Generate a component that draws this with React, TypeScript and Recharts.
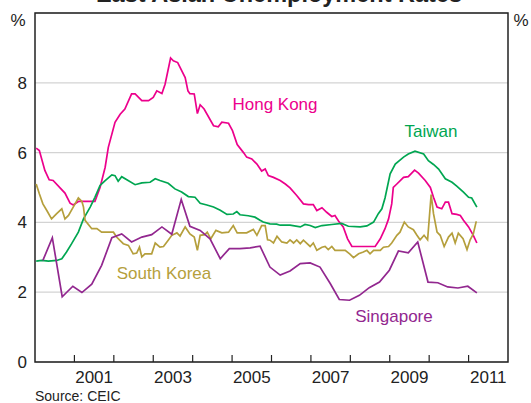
import React from "react";
import {
  LineChart,
  Line,
  XAxis,
  YAxis,
  CartesianGrid,
  ReferenceArea,
  ReferenceLine,
} from "recharts";

// ---- Data (decimal years, per cent) ----
const hkDates = [2000.03, 2000.11, 2000.25, 2000.36, 2000.46, 2000.76, 2000.89, 2000.97, 2001.1, 2001.52, 2001.65, 2001.78, 2001.86, 2002.03, 2002.16, 2002.28, 2002.45, 2002.54, 2002.71, 2002.88, 2003.0, 2003.09, 2003.22, 2003.3, 2003.44, 2003.51, 2003.62, 2003.81, 2003.88, 2003.93, 2004.04, 2004.12, 2004.19, 2004.29, 2004.53, 2004.65, 2004.74, 2004.91, 2005.01, 2005.13, 2005.29, 2005.37, 2005.5, 2005.63, 2005.75, 2005.84, 2005.92, 2006.05, 2006.22, 2006.35, 2006.47, 2006.64, 2006.81, 2006.94, 2007.06, 2007.15, 2007.28, 2007.4, 2007.53, 2007.61, 2007.7, 2007.82, 2007.93, 2008.04, 2008.63, 2008.76, 2008.88, 2008.97, 2009.05, 2009.09, 2009.18, 2009.35, 2009.47, 2009.63, 2009.73, 2009.9, 2010.03, 2010.11, 2010.2, 2010.32, 2010.41, 2010.49, 2010.58, 2010.7, 2010.79, 2010.87, 2011.0, 2011.12, 2011.21];
const hkRates = [6.13, 6.06, 5.49, 5.22, 5.2, 4.84, 4.55, 4.5, 4.6, 4.6, 5.0, 5.58, 6.15, 6.87, 7.1, 7.25, 7.68, 7.68, 7.49, 7.49, 7.58, 7.77, 7.69, 7.96, 8.71, 8.63, 8.58, 8.15, 7.77, 7.69, 7.68, 7.12, 7.37, 7.25, 6.77, 6.74, 6.87, 6.84, 6.63, 6.23, 6.0, 5.87, 5.82, 5.67, 5.47, 5.53, 5.34, 5.29, 5.2, 5.1, 4.99, 4.77, 4.53, 4.51, 4.51, 4.34, 4.42, 4.29, 4.17, 4.2, 4.04, 3.87, 3.53, 3.31, 3.31, 3.53, 3.82, 4.1, 4.53, 5.0, 5.1, 5.29, 5.31, 5.5, 5.41, 5.2, 5.0, 4.72, 4.44, 4.39, 4.58, 4.58, 4.25, 4.23, 4.2, 4.06, 3.87, 3.63, 3.41];

const twDates = [2000.03, 2000.17, 2000.34, 2000.55, 2000.68, 2000.8, 2000.93, 2001.1, 2001.23, 2001.4, 2001.52, 2001.65, 2001.78, 2001.95, 2002.03, 2002.11, 2002.2, 2002.33, 2002.54, 2002.71, 2002.92, 2003.05, 2003.17, 2003.38, 2003.55, 2003.72, 2003.89, 2004.06, 2004.19, 2004.36, 2004.53, 2004.7, 2004.87, 2005.03, 2005.12, 2005.2, 2005.41, 2005.58, 2005.71, 2005.79, 2005.96, 2006.13, 2006.22, 2006.47, 2006.73, 2006.85, 2006.98, 2007.11, 2007.28, 2007.53, 2007.78, 2007.95, 2008.25, 2008.42, 2008.59, 2008.71, 2008.8, 2008.88, 2009.01, 2009.14, 2009.35, 2009.47, 2009.64, 2009.86, 2009.98, 2010.11, 2010.24, 2010.41, 2010.58, 2010.7, 2010.87, 2011.0, 2011.08, 2011.21];
const twRates = [2.89, 2.91, 2.89, 2.91, 2.96, 3.15, 3.39, 3.72, 4.1, 4.44, 4.72, 5.06, 5.2, 5.36, 5.34, 5.18, 5.31, 5.22, 5.08, 5.13, 5.15, 5.25, 5.2, 5.12, 4.96, 4.87, 4.74, 4.72, 4.55, 4.5, 4.44, 4.35, 4.23, 4.24, 4.31, 4.22, 4.19, 4.15, 4.06, 4.01, 3.96, 3.95, 3.92, 3.92, 3.87, 3.94, 3.91, 3.85, 3.91, 3.94, 3.97, 3.89, 3.87, 3.9, 4.01, 4.25, 4.39, 4.7, 5.39, 5.67, 5.87, 5.96, 6.04, 5.96, 5.77, 5.66, 5.53, 5.25, 5.15, 5.04, 4.87, 4.72, 4.7, 4.44];

const krDates = [2000.03, 2000.11, 2000.2, 2000.3, 2000.42, 2000.55, 2000.68, 2000.76, 2000.85, 2000.97, 2001.1, 2001.19, 2001.23, 2001.27, 2001.44, 2001.57, 2001.69, 2001.99, 2002.07, 2002.24, 2002.37, 2002.49, 2002.58, 2002.65, 2002.71, 2002.79, 2002.96, 2003.05, 2003.17, 2003.26, 2003.38, 2003.47, 2003.6, 2003.68, 2003.81, 2003.93, 2004.04, 2004.12, 2004.19, 2004.31, 2004.37, 2004.46, 2004.59, 2004.74, 2004.91, 2005.03, 2005.13, 2005.37, 2005.54, 2005.63, 2005.75, 2005.84, 2005.9, 2005.96, 2006.05, 2006.14, 2006.26, 2006.39, 2006.47, 2006.56, 2006.64, 2006.73, 2006.81, 2006.98, 2007.06, 2007.15, 2007.28, 2007.36, 2007.44, 2007.53, 2007.61, 2007.87, 2007.99, 2008.08, 2008.21, 2008.33, 2008.42, 2008.5, 2008.59, 2008.76, 2008.84, 2008.97, 2009.05, 2009.18, 2009.26, 2009.37, 2009.47, 2009.6, 2009.69, 2009.77, 2009.87, 2009.96, 2010.05, 2010.11, 2010.2, 2010.28, 2010.38, 2010.49, 2010.58, 2010.66, 2010.74, 2010.86, 2010.96, 2011.04, 2011.12, 2011.19, 2011.21];
const krRates = [5.1, 4.82, 4.53, 4.34, 4.1, 4.25, 4.39, 4.1, 4.2, 4.44, 4.7, 4.6, 4.44, 4.06, 3.82, 3.82, 3.72, 3.72, 3.58, 3.39, 3.34, 3.1, 3.12, 3.29, 3.01, 3.1, 3.1, 3.41, 3.29, 3.31, 3.49, 3.63, 3.7, 3.61, 3.87, 3.67, 3.58, 3.2, 3.63, 3.65, 3.72, 3.53, 3.77, 3.7, 3.72, 3.91, 3.7, 3.7, 3.8, 3.63, 3.91, 3.91, 3.5, 3.49, 3.41, 3.6, 3.44, 3.41, 3.5, 3.41, 3.5, 3.39, 3.49, 3.31, 3.41, 3.2, 3.29, 3.31, 3.22, 3.31, 3.2, 3.2, 3.09, 2.99, 3.1, 3.15, 3.2, 3.1, 3.2, 3.2, 3.29, 3.31, 3.41, 3.63, 3.72, 4.01, 3.87, 3.79, 3.63, 3.5, 3.63, 3.5, 4.8, 4.25, 3.72, 3.63, 3.31, 3.58, 3.69, 3.41, 3.69, 3.53, 3.22, 3.5, 3.67, 4.01, 4.01];

const sgDates = [2000.2, 2000.44, 2000.69, 2000.96, 2001.19, 2001.44, 2001.69, 2001.95, 2002.2, 2002.45, 2002.71, 2002.96, 2003.22, 2003.47, 2003.71, 2003.93, 2004.19, 2004.44, 2004.7, 2004.93, 2005.2, 2005.46, 2005.71, 2005.96, 2006.22, 2006.47, 2006.73, 2006.98, 2007.23, 2007.49, 2007.72, 2007.98, 2008.23, 2008.48, 2008.74, 2008.99, 2009.22, 2009.47, 2009.71, 2009.97, 2010.22, 2010.47, 2010.73, 2010.98, 2011.21];
const sgRates = [2.91, 3.56, 1.87, 2.17, 1.99, 2.23, 2.77, 3.56, 3.67, 3.44, 3.58, 3.65, 3.87, 3.66, 4.66, 3.89, 3.77, 3.53, 2.96, 3.25, 3.25, 3.27, 3.32, 2.72, 2.49, 2.61, 2.82, 2.84, 2.72, 2.25, 1.79, 1.77, 1.91, 2.13, 2.29, 2.63, 3.18, 3.13, 3.44, 2.29, 2.27, 2.15, 2.12, 2.17, 1.98];

const yTicks = [0, 2, 4, 6, 8];
const yearMarks = [2001, 2002, 2003, 2004, 2005, 2006, 2007, 2008, 2009, 2010, 2011];
const yearLabels = [2001, 2003, 2005, 2007, 2009, 2011];

const zip = (d: number[], v: number[]) => d.map((x, i) => ({ x, v: v[i] }));
const hkData = zip(hkDates, hkRates);
const twData = zip(twDates, twRates);
const krData = zip(krDates, krRates);
const sgData = zip(sgDates, sgRates);
const labelTicks = yearLabels.map((y) => y + 0.5);

const COLORS = {
  hk: "#ec008c",
  tw: "#00a651",
  kr: "#b59f3c",
  sg: "#92278f",
};

const FONT = "Arial, 'Liberation Sans', sans-serif";
const TEXT = "#222";
const TICK_LEN = 0.2; // in y units (≈7px)

export default function App() {
  const tickStyle = { fontSize: 17, fill: TEXT, fontFamily: FONT };
  return (
    <div style={{ position: "absolute", left: 0, top: 0, width: 531, height: 403, background: "#fff" }}>
      <LineChart width={531} height={403} margin={{ top: 13, right: 0, bottom: 0, left: 0 }}>
        <CartesianGrid xAxisId="l" yAxisId="L" vertical={false} stroke="#d3d3d3" strokeWidth={1.3} />
        <XAxis
          xAxisId="l"
          dataKey="x"
          type="number"
          domain={[2000, 2012]}
          ticks={labelTicks}
          interval={0}
          height={41}
          tickLine={false}
          axisLine={false}
          tickMargin={3}
          tickFormatter={(v: number) => String(Math.floor(v))}
          tick={tickStyle}
          allowDataOverflow
        />
        <YAxis
          yAxisId="L"
          orientation="left"
          width={35}
          domain={[0, 10]}
          ticks={yTicks}
          interval={0}
          tickLine={false}
          axisLine={false}
          tick={tickStyle}
        />
        <YAxis
          yAxisId="R"
          orientation="right"
          width={23}
          domain={[0, 10]}
          ticks={yTicks}
          interval={0}
          tickLine={false}
          axisLine={false}
          tickMargin={1}
          tick={tickStyle}
        />
        <Line xAxisId="l" yAxisId="L" data={hkData} dataKey="v" stroke={COLORS.hk} strokeWidth={1.7} dot={false} isAnimationActive={false} />
        <Line xAxisId="l" yAxisId="L" data={twData} dataKey="v" stroke={COLORS.tw} strokeWidth={1.7} dot={false} isAnimationActive={false} />
        <Line xAxisId="l" yAxisId="L" data={krData} dataKey="v" stroke={COLORS.kr} strokeWidth={1.7} dot={false} isAnimationActive={false} />
        <Line xAxisId="l" yAxisId="L" data={sgData} dataKey="v" stroke={COLORS.sg} strokeWidth={1.7} dot={false} isAnimationActive={false} />
        {yearMarks.map((yr) => (
          <ReferenceLine
            key={yr}
            xAxisId="l"
            yAxisId="L"
            segment={[{ x: yr, y: 0 }, { x: yr, y: TICK_LEN }]}
            stroke={TEXT}
            strokeWidth={1.2}
            ifOverflow="visible"
          />
        ))}
        <ReferenceArea
          xAxisId="l"
          yAxisId="L"
          x1={2000}
          x2={2012}
          y1={0}
          y2={10}
          fill="none"
          fillOpacity={0}
          stroke={TEXT}
          strokeWidth={1.5}
          ifOverflow="visible"
        />
      </LineChart>
      <svg
        width={531}
        height={403}
        style={{ position: "absolute", left: 0, top: 0, pointerEvents: "none" }}
        fontFamily={FONT}
      >
        <text x={279} y={1.5} textAnchor="middle" fontSize={23.5} fontWeight="bold" fill={TEXT}>
          East Asian Unemployment Rates
        </text>
        <text x={18} y={26} textAnchor="middle" fontSize={17} fill={TEXT}>%</text>
        <text x={521} y={26} textAnchor="middle" fontSize={17} fill={TEXT}>%</text>
        <text x={275} y={110} textAnchor="middle" fontSize={17} fill={COLORS.hk}>Hong Kong</text>
        <text x={431} y={136.5} textAnchor="middle" fontSize={17} fill={COLORS.tw}>Taiwan</text>
        <text x={164} y={279} textAnchor="middle" fontSize={17} fill={COLORS.kr}>South Korea</text>
        <text x={394} y={322} textAnchor="middle" fontSize={17} fill={COLORS.sg}>Singapore</text>
        <text x={35} y={401} fontSize={14} fill={TEXT}>Source: CEIC</text>
      </svg>
    </div>
  );
}
